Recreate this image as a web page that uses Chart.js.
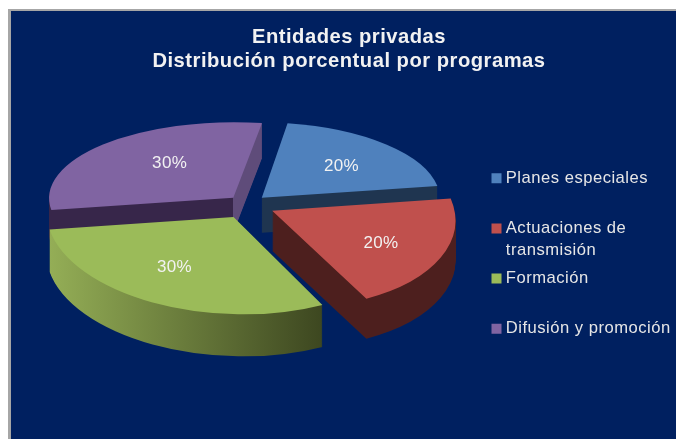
<!DOCTYPE html>
<html><head><meta charset="utf-8">
<style>html,body{margin:0;padding:0;background:#fff}canvas{display:block;filter:blur(0.45px)}</style>
<script src="https://cdn.jsdelivr.net/npm/chart.js@4"></script>
</head><body><canvas id="c" width="676" height="439"></canvas>
<script>
const categories = ['Planes especiales','Actuaciones de transmisión','Formación','Difusión y promoción'];
const legendLines = [['Planes especiales',''],['Actuaciones de','transmisión'],['Formación',''],['Difusión y promoción','']];
const values = [20,20,30,30];
const topColors = ['#4f81bd','#c0504d','#9bbb59','#8064a2'];
const wallStops = [
  [[0,'#1f3550'],[1,'#1f3550']],
  [[0,'#4d1f1e'],[1,'#4d1f1e']],
  [[0,'#94ae56'],[1,'#3d4720']],
  [[0,'#37264a'],[0.86,'#37264a'],[0.86,'#5f4c7a'],[1,'#5f4c7a']]
];
const explodeBySlice = [0.112,0.153,0.16,0.111];
const radiusBySlice = [1,1,0.985,1];
const labelReach = [0.62,0.65,0.65,0.55];
const labelNudge = [[4,3],[-2,5],[2,-5],[2,-3]];
const titleLines = ['Entidades privadas','Distribución porcentual por programas'];

// view of the pie plane: a single projective camera and extrusion
const view = {cx:247.3, cy:204.5, ex:30.7, ey:-84.8, fx:179.7, fy:14.7, alpha:0.116, beta:-0.0202, depth:38};
const project = (u,v)=>{
  const w = 1+view.alpha*u+view.beta*v;
  return {x:view.cx+(view.ex*u+view.fx*v)/w, y:view.cy+(view.ey*u+view.fy*v)/w};
};
const planDir = t=>({u:-Math.sin(t), v:Math.cos(t)});

function sliceGeom(arc,i){
  const p = arc.getProps(['x','y','startAngle','endAngle','outerRadius'],true);
  const s = planDir(p.startAngle), e = planDir(p.endAngle), m = planDir((p.startAngle+p.endAngle)/2);
  const au = explodeBySlice[i]*m.u, av = explodeBySlice[i]*m.v, r = radiusBySlice[i];
  const A = project(au,av), S = project(au+r*s.u,av+r*s.v), T = project(au+r*e.u,av+r*e.v);
  const R = p.outerRadius;
  const l1x=R*Math.cos(p.startAngle), l1y=R*Math.sin(p.startAngle), l2x=R*Math.cos(p.endAngle), l2y=R*Math.sin(p.endAngle);
  const det = l1x*l2y-l2x*l1y;
  const s1x=S.x-A.x,s1y=S.y-A.y,s2x=T.x-A.x,s2y=T.y-A.y;
  const a=(s1x*l2y-s2x*l1y)/det, c=(-s1x*l2x+s2x*l1x)/det;
  const b=(s1y*l2y-s2y*l1y)/det, d=(-s1y*l2x+s2y*l1x)/det;
  const e0=A.x-a*p.x-c*p.y, f0=A.y-b*p.x-d*p.y;
  const w = 1+view.alpha*(m.u)+view.beta*(m.v);
  return {A,S,T,m,au,av,a,b,c,d,e:e0,f:f0,depth:view.depth/w,w};
}
function fillArc(ctx,arc,g,dy,fill){
  ctx.save();
  ctx.setTransform(g.a,g.b,g.c,g.d,g.e,g.f+dy);
  const saved = arc.options;
  arc.options = Object.assign({},saved,{backgroundColor:fill,borderWidth:0});
  arc.draw(ctx);
  arc.options = saved;
  ctx.restore();
}
const pie3d = {
  id:'pie3d',
  beforeDraw(chart){
    const {ctx,width,height}=chart;
    ctx.save();
    ctx.fillStyle='#ffffff';ctx.fillRect(0,0,width,height);
    ctx.fillStyle='#a6a6a6';ctx.fillRect(8,9,width-8,height-9);
    ctx.fillStyle='#002060';ctx.fillRect(11,11,width-11,height-11);
    ctx.restore();
    ctx.letterSpacing='0.5px';
  },
  afterLayout(chart){
    chart.legend.left=488.5; chart.legend.right=676;
    chart.legend.top=163; chart.legend.bottom=439;
  },
  beforeDatasetsDraw(chart){
    const ctx=chart.ctx, arcs=chart.getDatasetMeta(0).data;
    ctx.letterSpacing='0px';
    const order=arcs.map((arc,i)=>({arc,i,g:sliceGeom(arc,i)})).sort((p,q)=>q.g.w-p.g.w);
    for(const {arc,i,g} of order){
      const xs=[g.A.x,g.S.x,g.T.x], x0=Math.min(...xs), x1=Math.max(...xs);
      const k=g.a*g.a+g.c*g.c;
      const grad=ctx.createLinearGradient(g.a*(x0-g.e)/k,g.c*(x0-g.e)/k,g.a*(x1-g.e)/k,g.c*(x1-g.e)/k);
      wallStops[i].forEach(s=>grad.addColorStop(s[0],s[1]));
      for(let dy=Math.round(g.depth);dy>0;dy--) fillArc(ctx,arc,g,dy,grad);
      fillArc(ctx,arc,g,0,topColors[i]);
    }
    ctx.save();
    ctx.letterSpacing='0.3px';
    ctx.fillStyle='#f2f2f2';ctx.font='17px "Liberation Sans"';ctx.textAlign='center';ctx.textBaseline='middle';
    arcs.forEach((arc,i)=>{
      const g=sliceGeom(arc,i);
      const P=project(g.au+labelReach[i]*g.m.u,g.av+labelReach[i]*g.m.v);
      ctx.fillText(values[i]+'%',P.x+labelNudge[i][0],P.y+labelNudge[i][1]);
    });
    ctx.restore();
    return false;
  }
};
new Chart(document.getElementById('c'),{
  type:'pie',
  data:{labels:categories,datasets:[{data:values,backgroundColor:topColors,borderWidth:0}]},
  plugins:[pie3d],
  options:{
    responsive:false,animation:false,rotation:0,
    layout:{padding:{left:22,top:0,right:0,bottom:0}},
    plugins:{
      tooltip:{enabled:false},
      title:{display:true,text:titleLines,color:'#f2f2f2',font:{family:'"Liberation Sans"',size:20.2,weight:'bold',lineHeight:1.19},padding:{top:25,bottom:10}},
      legend:{
        position:'right',align:'start',
        labels:{
          color:'#e6e6e6',font:{family:'"Liberation Sans"',size:16.6,lineHeight:1.3},
          usePointStyle:true,pointStyle:'rect',boxWidth:2,boxHeight:10,padding:7,
          generateLabels:()=>legendLines.map((t,i)=>({text:t,fillStyle:topColors[i],strokeStyle:topColors[i],lineWidth:0,pointStyle:'rect',index:i,fontColor:'#e6e6e6'}))
        }
      }
    }
  }
});
</script></body></html>
